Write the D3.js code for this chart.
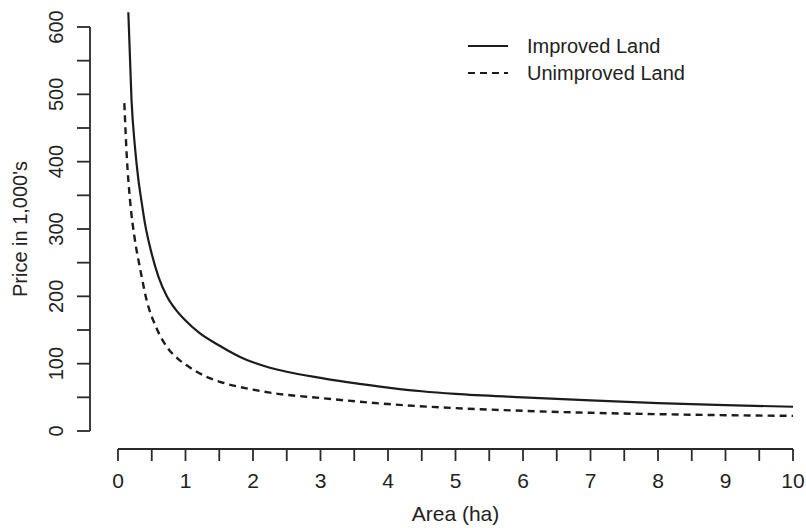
<!DOCTYPE html>
<html lang="en">
<head>
<meta charset="UTF-8">
<title>Price vs Area</title>
<script src="https://d3js.org/d3.v7.min.js"></script>
<style>
  body { margin: 0; padding: 0; background: #fff; }
  svg { display: block; font-family: "Liberation Sans", Arial, sans-serif; }
  .axis-line { stroke: #2a2a2a; stroke-width: 1.8; fill: none; }
  .tick-label { fill: #222; }
</style>
</head>
<body>
<svg width="806" height="528"></svg>
<script>
// values
const improvedArea  = [0.153, 0.2, 0.25, 0.3, 0.35, 0.4, 0.5, 0.6, 0.72, 0.85, 1.0, 1.2, 1.5, 1.85, 2.0, 2.25, 2.5, 3, 3.5, 4, 4.5, 5, 6, 7, 8, 9, 10];
const improvedPrice = [622, 492, 423, 375, 340, 308, 263, 229, 201, 181, 164, 146, 127, 108, 102, 94, 88, 79, 71, 64.5, 59, 55, 50, 45.5, 41.5, 38.5, 36];

const unimprovedArea  = [0.094, 0.13, 0.178, 0.25, 0.326, 0.425, 0.57, 0.73, 0.88, 1.04, 1.3, 1.56, 2.0, 2.25, 3, 4, 5, 6, 7, 8, 9, 10];
const unimprovedPrice = [487, 408, 343, 284, 242, 194, 153, 124, 108, 96, 81, 71.5, 61.5, 57, 49, 40, 34, 30, 27, 25, 23.5, 22.5];

const xTicks = d3.range(0, 10.01, 0.5);
const xLabels = d3.range(0, 11, 1);
const yTicks = d3.range(0, 601, 50);
const yLabels = d3.range(0, 601, 100);

const legendLabels = ["Improved Land", "Unimproved Land"];

const svg = d3.select("svg");

const x = d3.scaleLinear().domain([0, 10]).range([118, 793]);
const y = d3.scaleLinear().domain([0, 600]).range([431, 27]);

// y axis
const yAxisX = 90;
svg.append("line").attr("class", "axis-line")
  .attr("x1", yAxisX).attr("x2", yAxisX)
  .attr("y1", y(0)).attr("y2", y(600));
svg.selectAll(".ytick").data(yTicks).enter().append("line")
  .attr("class", "axis-line")
  .attr("x1", yAxisX - 13).attr("x2", yAxisX)
  .attr("y1", d => y(d)).attr("y2", d => y(d));
svg.selectAll(".ylab").data(yLabels).enter().append("text")
  .attr("class", "tick-label")
  .attr("transform", d => `translate(63,${y(d)}) rotate(-90)`)
  .attr("text-anchor", "middle")
  .style("font-size", "20px")
  .text(d => d);

// x axis
const xAxisY = 449;
svg.append("line").attr("class", "axis-line")
  .attr("x1", x(0)).attr("x2", x(10))
  .attr("y1", xAxisY).attr("y2", xAxisY);
svg.selectAll(".xtick").data(xTicks).enter().append("line")
  .attr("class", "axis-line")
  .attr("x1", d => x(d)).attr("x2", d => x(d))
  .attr("y1", xAxisY).attr("y2", xAxisY + 12);
svg.selectAll(".xlab").data(xLabels).enter().append("text")
  .attr("class", "tick-label")
  .attr("x", d => x(d)).attr("y", 488)
  .attr("text-anchor", "middle")
  .style("font-size", "21px")
  .text(d => d);

// titles
svg.append("text")
  .attr("x", (x(0) + x(10)) / 2).attr("y", 521)
  .attr("text-anchor", "middle")
  .style("font-size", "21px").attr("fill", "#222")
  .text("Area (ha)");
svg.append("text")
  .attr("transform", `translate(27,${(y(0) + y(600)) / 2}) rotate(-90)`)
  .attr("text-anchor", "middle")
  .style("font-size", "20px").attr("fill", "#222")
  .text("Price in 1,000's");

// curves
const line = d3.line()
  .x(d => x(d[0]))
  .y(d => y(d[1]))
  .curve(d3.curveMonotoneX);

svg.append("path")
  .datum(d3.zip(improvedArea, improvedPrice))
  .attr("d", line)
  .attr("fill", "none")
  .attr("stroke", "#1c1c1c")
  .attr("stroke-width", 2.2);

svg.append("path")
  .datum(d3.zip(unimprovedArea, unimprovedPrice))
  .attr("d", line)
  .attr("fill", "none")
  .attr("stroke", "#1c1c1c")
  .attr("stroke-width", 2.4)
  .attr("stroke-dasharray", "7,5");

// legend
const legend = svg.append("g");
legendLabels.forEach((label, i) => {
  const ly = 46 + i * 27;
  legend.append("line")
    .attr("x1", 468).attr("x2", 508)
    .attr("y1", ly).attr("y2", ly)
    .attr("stroke", "#1c1c1c")
    .attr("stroke-width", 2.2)
    .attr("stroke-dasharray", i === 1 ? "7,5" : null);
  legend.append("text")
    .attr("x", 527).attr("y", ly)
    .attr("dominant-baseline", "central")
    .style("font-size", "20px").attr("fill", "#222")
    .text(label);
});
</script>
</body>
</html>
